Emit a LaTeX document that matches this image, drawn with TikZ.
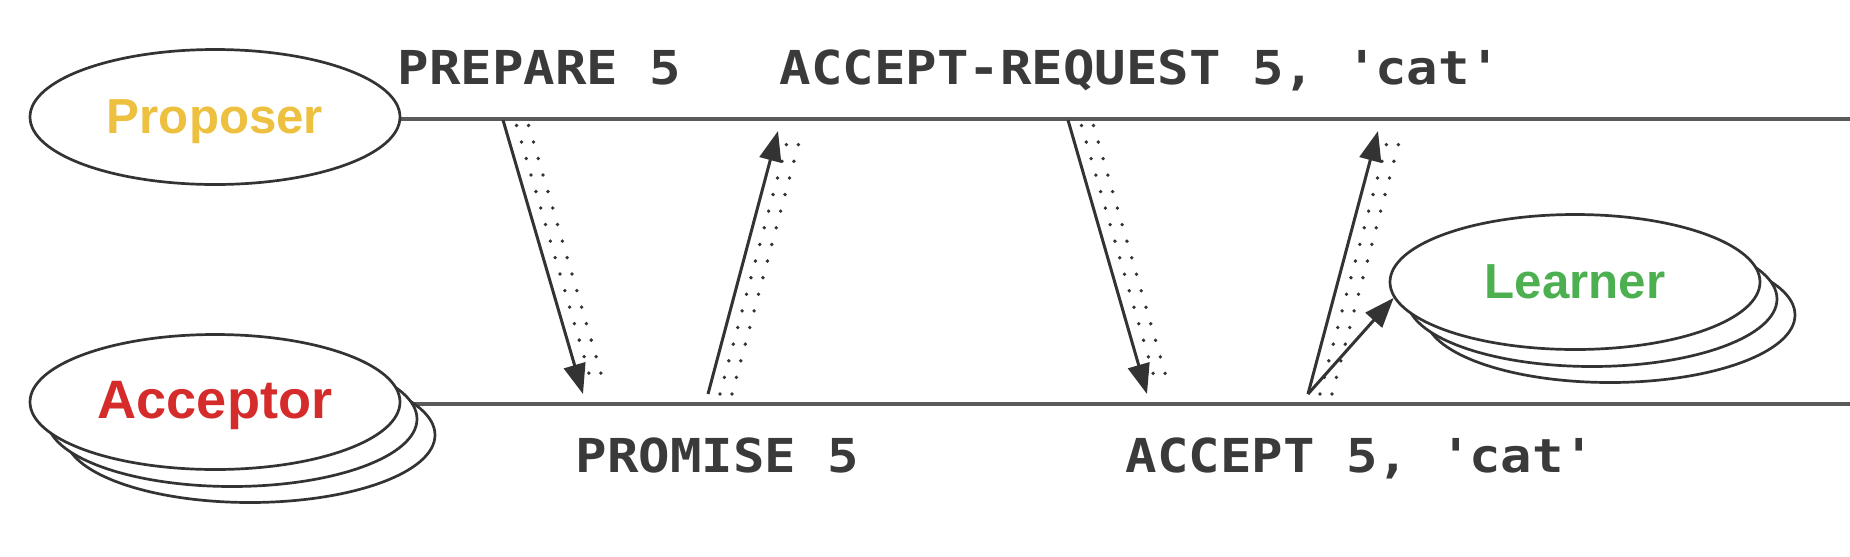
\documentclass[tikz,border=0pt]{standalone}
\usepackage{fontspec}
\setmainfont{Liberation Sans}
\newfontfamily\msgfont[FakeStretch=1.12]{DejaVu Sans Mono}
\usetikzlibrary{shapes.geometric,arrows.meta,backgrounds,calc}
\definecolor{lineclr}{HTML}{5A5A5A}
\definecolor{inkclr}{HTML}{333333}
\definecolor{txtclr}{HTML}{3A3A3A}
\definecolor{propclr}{HTML}{EDC03F}
\definecolor{accclr}{HTML}{D52B2B}
\definecolor{learnclr}{HTML}{4CAF50}
\newcommand{\sq}{\textquotesingle}
\begin{document}
\begin{tikzpicture}[x=0.1mm,y=-0.1mm,
  actor/.style={ellipse, draw=inkclr, line width=0.27mm, fill=white, minimum width=37mm, minimum height=13.5mm, inner sep=0pt, text depth=0pt, text height=0.95em, font=\bfseries\fontsize{14}{16}\selectfont},
  shadowell/.style={ellipse, draw=inkclr, line width=0.27mm, fill=white, minimum width=37mm, minimum height=13.5mm, inner sep=0pt},
  timeline/.style={draw=lineclr, line width=0.45mm},
  msg/.style={draw=inkclr, line width=0.3mm, -{Triangle[length=3mm,width=2.2mm]}},
  dotrow/.style={draw=inkclr, line width=0.38mm, line cap=round, dash pattern=on 0pt off 1.72mm},
  lbl/.style={font=\msgfont\bfseries\fontsize{13.3}{15}\selectfont, text=txtclr, anchor=base west, inner sep=0pt}
]
\useasboundingbox (0,0) rectangle (1850,556);

% actors
\node[actor, text=propclr] (prop) at (215,117) {Proposer};
\node[shadowell] (accB) at (250,435) {};
\node[shadowell] (accM) at (232,419) {};
\node[actor, text=accclr, font=\bfseries\fontsize{15.4}{17}\selectfont] (acc) at (215,402) {Acceptor};
\node[shadowell] (lrnB) at (1610,315) {};
\node[shadowell] (lrnM) at (1592,299) {};
\node[actor, text=learnclr] (lrn) at (1575,282) {Learner};

% timelines
\coordinate (propEnd) at (1850,119);
\coordinate (accEnd) at (1850,404);
\begin{scope}[on background layer]
\draw[timeline] (prop.east |- propEnd) -- (propEnd);
\draw[timeline] (acc.east |- accEnd) -- (accEnd);
\end{scope}

% labels
\node[lbl] (lPrep) at (397,84) {PREPARE 5};
\node[lbl] (lAR) at (779,84) {ACCEPT-REQUEST 5, \sq cat\sq};
\node[lbl] (lProm) at (575,472) {PROMISE 5};
\node[lbl] (lAcc) at (1125,472) {ACCEPT 5, \sq cat\sq};

% message endpoints
\coordinate (m1s) at (503,120); \coordinate (m1e) at (583,394);
\coordinate (m2s) at (708,394); \coordinate (m2e) at (778,131);
\coordinate (m3s) at (1068,120); \coordinate (m3e) at (1147,394);
\coordinate (m4s) at (1308,394); \coordinate (m4e) at (1378,131);

% dotted bands
\foreach \s/\e/\a/\b in {m1s/m1e/0.02/0.955, m3s/m3e/0.02/0.955, m2s/m2e/0.0/0.98, m4s/m4e/0.0/0.98}{
  \draw[dotrow] ($(\s)!\a!(\e)+(12,0)$) -- ($(\s)!\b!(\e)+(12,0)$);
  \draw[dotrow] ($(\s)!\a!(\e)+(24,0)$) -- ($(\s)!\b!(\e)+(24,0)$);
}

% messages
\draw[msg] (m1s) -- (m1e);
\draw[msg] (m2s) -- (m2e);
\draw[msg] (m3s) -- (m3e);
\draw[msg] (m4s) -- (m4e);
\draw[msg] (m4s) -- (lrn.185);
\end{tikzpicture}
\end{document}
